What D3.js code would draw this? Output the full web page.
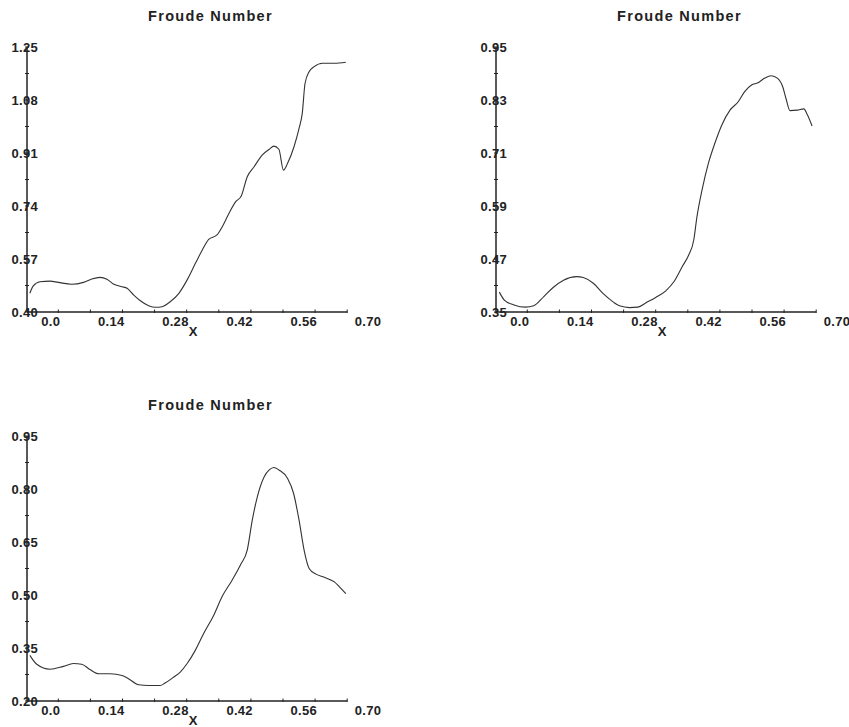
<!DOCTYPE html>
<html>
<head>
<meta charset="utf-8">
<script src="https://cdn.jsdelivr.net/npm/d3@7"></script>
<style>
  body { margin: 0; background: white; }
  svg { display: block; }
  text { font-family: "Liberation Sans", Arial, Helvetica, sans-serif; font-weight: bold; fill: #222; }
</style>
</head>
<body>
<script>
// ---- data ----
const TITLE = "Froude Number";
const X_LABEL = "X";
const X_TICKS = [0.0, 0.14, 0.28, 0.42, 0.56, 0.70];
const X_TICK_LABELS = ["0.0", "0.14", "0.28", "0.42", "0.56", "0.70"];
const X_MINOR = [0.0, 0.07, 0.14, 0.21, 0.28, 0.35, 0.42, 0.49, 0.56, 0.63];
const X_RANGE = [-0.068, 0.63];

// panel 1
const x1 = [-0.062, -0.055, -0.04, -0.018, 0.0, 0.029, 0.055, 0.073, 0.091, 0.106, 0.12, 0.139, 0.15, 0.164,
            0.179, 0.197, 0.212, 0.226, 0.244, 0.263, 0.281, 0.299, 0.314, 0.328, 0.346, 0.357, 0.372, 0.387,
            0.399, 0.412, 0.427, 0.445, 0.46, 0.47, 0.481, 0.491, 0.5, 0.514, 0.525, 0.532, 0.538, 0.547,
            0.558, 0.576, 0.602, 0.627];
const y1 = [0.46, 0.483, 0.497, 0.499, 0.495, 0.489, 0.495, 0.506, 0.511, 0.505, 0.49, 0.481, 0.476, 0.455,
            0.436, 0.42, 0.415, 0.417, 0.433, 0.46, 0.503, 0.556, 0.599, 0.633, 0.647, 0.672, 0.716, 0.754,
            0.772, 0.834, 0.866, 0.904, 0.922, 0.932, 0.922, 0.855, 0.877, 0.93, 0.989, 1.037, 1.133, 1.171,
            1.187, 1.198, 1.198, 1.201];
const yTicks1 = [0.40, 0.57, 0.74, 0.91, 1.08, 1.25];
const yLabels1 = ["0.40", "0.57", "0.74", "0.91", "1.08", "1.25"];

// panel 2
const x2 = [-0.061, -0.05, -0.029, -0.004, 0.014, 0.036, 0.057, 0.079, 0.108, 0.122, 0.144, 0.165, 0.187,
            0.201, 0.223, 0.241, 0.259, 0.28, 0.302, 0.32, 0.338, 0.352, 0.363, 0.37, 0.381, 0.395, 0.409,
            0.424, 0.442, 0.46, 0.474, 0.489, 0.503, 0.517, 0.532, 0.546, 0.557, 0.564, 0.573, 0.589, 0.603,
            0.611, 0.621];
const y2 = [0.395, 0.377, 0.366, 0.361, 0.364, 0.385, 0.406, 0.422, 0.43, 0.428, 0.415, 0.392, 0.373,
            0.364, 0.36, 0.361, 0.371, 0.383, 0.398, 0.419, 0.453, 0.479, 0.513, 0.566, 0.626, 0.687, 0.732,
            0.773, 0.807, 0.826, 0.849, 0.864, 0.869, 0.879, 0.885, 0.879, 0.86, 0.834, 0.806, 0.807, 0.81,
            0.796, 0.771];
const yTicks2 = [0.35, 0.47, 0.59, 0.71, 0.83, 0.95];
const yLabels2 = ["0.35", "0.47", "0.59", "0.71", "0.83", "0.95"];

// panel 3
const x3 = [-0.062, -0.047, -0.018, 0.011, 0.033, 0.051, 0.069, 0.088, 0.113, 0.139, 0.153, 0.175, 0.197,
            0.222, 0.233, 0.252, 0.266, 0.281, 0.299, 0.317, 0.339, 0.357, 0.379, 0.398, 0.412, 0.423, 0.434,
            0.449, 0.46, 0.47, 0.481, 0.5, 0.513, 0.525, 0.536, 0.547, 0.562, 0.58, 0.602, 0.613, 0.627];
const y3 = [0.329, 0.304, 0.29, 0.298, 0.306, 0.304, 0.289, 0.277, 0.277, 0.272, 0.263, 0.246, 0.244,
            0.244, 0.251, 0.268, 0.282, 0.306, 0.344, 0.391, 0.443, 0.495, 0.542, 0.587, 0.627, 0.712, 0.778,
            0.835, 0.854, 0.861, 0.854, 0.83, 0.788, 0.712, 0.627, 0.575, 0.559, 0.55, 0.537, 0.523, 0.504];
const yTicks3 = [0.20, 0.35, 0.50, 0.65, 0.80, 0.95];
const yLabels3 = ["0.20", "0.35", "0.50", "0.65", "0.80", "0.95"];

const PLOT_LEFT = 27;
const PLOT_TOP = 47;
const PLOT_H = 265;

var svg = d3.select("body").append("svg")
            .attr("width", 849)
            .attr("height", 727);

function drawPanel (ox, oy, xs, ys, yTicks, yLabels) {
    var g = svg.append("g").attr("transform", "translate(" + ox + "," + oy + ")");

    var x = d3.scaleLinear().domain([0, 0.14]).range([58.3, 58.3 + 64.2]);
    var y = d3.scaleLinear().domain([yTicks[0], yTicks[yTicks.length - 1]])
                            .range([PLOT_TOP + PLOT_H, PLOT_TOP]);
    var yBottom = PLOT_TOP + PLOT_H;

    // title
    g.append("text")
     .text(TITLE)
     .attr("x", 210.5)
     .attr("y", 21)
     .attr("font-size", 14.5)
     .style("letter-spacing", "1.3px")
     .style("text-anchor", "middle");

    // axis lines
    g.append("line")
     .attr("x1", PLOT_LEFT).attr("x2", PLOT_LEFT)
     .attr("y1", PLOT_TOP).attr("y2", yBottom)
     .style("stroke", "#222").style("stroke-width", 1.5);
    g.append("line")
     .attr("x1", PLOT_LEFT).attr("x2", x(X_RANGE[1]))
     .attr("y1", yBottom).attr("y2", yBottom)
     .style("stroke", "#222").style("stroke-width", 1.5);

    // y ticks (major + midpoints)
    var yAll = [];
    for (var i = 0; i < yTicks.length; i++) {
        yAll.push(yTicks[i]);
        if (i < yTicks.length - 1) yAll.push((yTicks[i] + yTicks[i + 1]) / 2);
    }
    g.selectAll(".ytick").data(yAll).enter().append("line")
     .attr("x1", PLOT_LEFT - 2).attr("x2", PLOT_LEFT + 2)
     .attr("y1", function (d) { return y(d); })
     .attr("y2", function (d) { return y(d); })
     .style("stroke", "#222").style("stroke-width", 1);

    g.selectAll(".ylab").data(yTicks).enter().append("text")
     .text(function (d, i) { return yLabels[i]; })
     .attr("x", 11.5)
     .attr("y", function (d) { return y(d) + 4.7; })
     .attr("font-size", 13)
     .style("letter-spacing", "0.3px");

    // x ticks
    g.selectAll(".xtick").data(X_MINOR).enter().append("line")
     .attr("x1", function (d) { return x(d); })
     .attr("x2", function (d) { return x(d); })
     .attr("y1", yBottom - 2.5).attr("y2", yBottom + 1)
     .style("stroke", "#222").style("stroke-width", 1);

    g.selectAll(".xlab").data(X_TICKS).enter().append("text")
     .text(function (d, i) { return X_TICK_LABELS[i]; })
     .attr("x", function (d) { return x(d) + 2; })
     .attr("y", yBottom + 13.5)
     .attr("font-size", 13)
     .style("letter-spacing", "0.3px")
     .style("text-anchor", "end");

    g.append("text")
     .text(X_LABEL)
     .attr("x", 193)
     .attr("y", yBottom + 24)
     .attr("font-size", 13)
     .style("text-anchor", "middle");

    // curve
    var pts = xs.map(function (d, i) { return [d, ys[i]]; });
    var line = d3.line()
                 .x(function (d) { return x(d[0]); })
                 .y(function (d) { return y(d[1]); })
                 .curve(d3.curveMonotoneX);
    g.append("path")
     .attr("d", line(pts))
     .style("fill", "none")
     .style("stroke", "#333")
     .style("stroke-width", 1.1);
}

drawPanel(0, 0, x1, y1, yTicks1, yLabels1);
drawPanel(469, 0, x2, y2, yTicks2, yLabels2);
drawPanel(0, 389, x3, y3, yTicks3, yLabels3);
</script>
</body>
</html>
